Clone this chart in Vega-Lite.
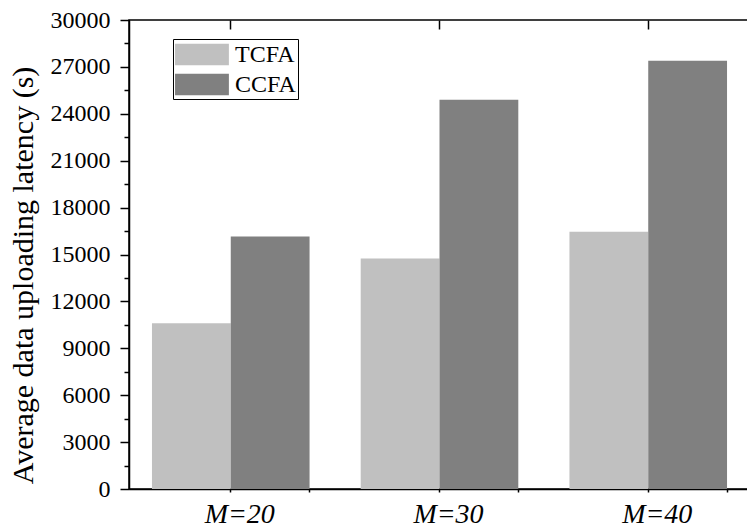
{
  "$schema": "https://vega.github.io/schema/vega-lite/v6.json",
  "width": 621,
  "height": 469,
  "padding": {"left": 8, "top": 8, "right": 1, "bottom": 2},
  "config": {
    "view": {"stroke": "black", "strokeWidth": 1.5},
    "font": "'Liberation Serif', 'Times New Roman', serif",
    "axis": {"domainColor": "black", "tickColor": "black", "labelColor": "black", "titleColor": "black", "domainWidth": 1.5, "tickWidth": 1.5, "grid": false, "labelFont": "'Liberation Serif', 'Times New Roman', serif", "titleFont": "'Liberation Serif', 'Times New Roman', serif"},
    "legend": {"labelFont": "'Liberation Serif', 'Times New Roman', serif"}
  },
  "data": {
    "values": [
      {"group": "M=20", "method": "TCFA", "latency": 10600},
      {"group": "M=20", "method": "CCFA", "latency": 16150},
      {"group": "M=30", "method": "TCFA", "latency": 14750},
      {"group": "M=30", "method": "CCFA", "latency": 24900},
      {"group": "M=40", "method": "TCFA", "latency": 16450},
      {"group": "M=40", "method": "CCFA", "latency": 27400}
    ]
  },
  "layer": [
    {
      "mark": {"type": "bar"},
      "encoding": {
        "x": {"field": "group", "type": "nominal", "sort": null, "scale": {"paddingInner": 0.245, "paddingOuter": 0.11},
          "axis": {"title": null, "labelAngle": 0, "labelFontSize": 28, "labelFontStyle": "italic", "labelPadding": 8, "labelOffset": 9, "tickSize": 3, "domain": true}},
        "xOffset": {"field": "method", "type": "nominal", "sort": ["TCFA", "CCFA"]},
        "y": {"field": "latency", "type": "quantitative", "scale": {"domain": [0, 30000], "nice": false},
          "axis": {"title": "Average data uploading latency (s)", "titleFontSize": 30, "titleFontWeight": "normal", "titlePadding": 12, "titleY": 255,
            "values": [0, 1500, 3000, 4500, 6000, 7500, 9000, 10500, 12000, 13500, 15000, 16500, 18000, 19500, 21000, 22500, 24000, 25500, 27000, 28500, 30000],
            "labelExpr": "datum.value % 3000 === 0 ? datum.label : ''", "format": "d", "labelFontSize": 24, "labelPadding": 10,
            "tickSize": {"condition": {"test": "datum.value % 3000 === 0", "value": 9}, "value": 5}}},
        "color": {"field": "method", "type": "nominal", "sort": ["TCFA", "CCFA"],
          "scale": {"domain": ["TCFA", "CCFA"], "range": ["#c0c0c0", "#808080"]},
          "legend": {"title": null, "orient": "none", "legendX": 44, "legendY": 19, "direction": "vertical",
            "symbolType": "M-1,-0.8H3V0.8H-1Z", "symbolSize": 725, "symbolStrokeWidth": 0,
            "labelFontSize": 24, "labelColor": "black", "labelOffset": 33,
            "strokeColor": "black", "padding": 2, "rowPadding": 4, "fillColor": "white"}}
      }
    },
    {
      "mark": {"type": "bar", "opacity": 0},
      "encoding": {
        "x": {"field": "group", "type": "nominal", "sort": null,
          "axis": {"orient": "top", "title": null, "labels": false, "domain": false, "tickSize": 9, "offset": -9}},
        "xOffset": {"field": "method", "type": "nominal", "sort": ["TCFA", "CCFA"]},
        "y": {"field": "latency", "type": "quantitative",
          "axis": {"orient": "right", "title": null, "labels": false, "domain": false, "offset": -3, "tickSize": 3,
            "values": [0, 3000, 6000, 9000, 12000, 15000, 18000, 21000, 24000, 27000, 30000]}}
      }
    },
    {
      "mark": {"type": "bar", "opacity": 0},
      "encoding": {
        "x": {"field": "group", "type": "nominal", "sort": null,
          "axis": {"orient": "bottom", "title": null, "labels": false, "domain": false, "tickSize": 3, "bandPosition": 1}},
        "xOffset": {"field": "method", "type": "nominal", "sort": ["TCFA", "CCFA"]},
        "y": {"field": "latency", "type": "quantitative", "axis": null}
      }
    }
  ],
  "resolve": {"axis": {"x": "independent", "y": "independent"}}
}
